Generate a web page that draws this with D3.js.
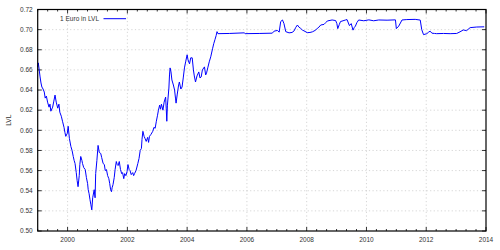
<!DOCTYPE html>
<html>
<head>
<meta charset="utf-8">
<script src="https://cdn.jsdelivr.net/npm/d3@7"></script>
<style>
  html, body { margin: 0; padding: 0; background: #fff; }
  svg { display: block; font-family: "Liberation Sans", Arial, sans-serif; }
</style>
</head>
<body>
<svg id="chart" width="500" height="250"></svg>
<script>
// EUR -> LVL, decimal year vs rate
const years = [
  1999.00, 1999.02, 1999.05, 1999.08, 1999.11, 1999.14, 1999.18, 1999.22, 1999.25, 1999.29,
  1999.33, 1999.38, 1999.41, 1999.44, 1999.50, 1999.54, 1999.58, 1999.62, 1999.67, 1999.71,
  1999.74, 1999.79, 1999.83, 1999.88, 1999.91, 1999.94, 1999.99, 2000.02, 2000.06, 2000.11,
  2000.15, 2000.19, 2000.22, 2000.25, 2000.29, 2000.32, 2000.35, 2000.39, 2000.41, 2000.44,
  2000.48, 2000.50, 2000.54, 2000.59, 2000.63, 2000.67, 2000.69, 2000.72, 2000.75, 2000.78,
  2000.81, 2000.84, 2000.89, 2000.92, 2000.94, 2000.98, 2001.02, 2001.06, 2001.11, 2001.14,
  2001.19, 2001.23, 2001.26, 2001.30, 2001.34, 2001.38, 2001.41, 2001.44, 2001.47, 2001.49,
  2001.52, 2001.56, 2001.59, 2001.63, 2001.66, 2001.69, 2001.73, 2001.77, 2001.81, 2001.84,
  2001.88, 2001.91, 2001.95, 2001.99, 2002.02, 2002.06, 2002.09, 2002.13, 2002.18, 2002.21,
  2002.24, 2002.29, 2002.35, 2002.39, 2002.43, 2002.47, 2002.49, 2002.52, 2002.56, 2002.59,
  2002.63, 2002.68, 2002.71, 2002.74, 2002.79, 2002.85, 2002.89, 2002.93, 2002.97, 2003.01,
  2003.04, 2003.08, 2003.11, 2003.14, 2003.19, 2003.23, 2003.28, 2003.30, 2003.32, 2003.34,
  2003.39, 2003.41, 2003.43, 2003.46, 2003.49, 2003.54, 2003.58, 2003.61, 2003.63, 2003.67,
  2003.71, 2003.74, 2003.79, 2003.83, 2003.87, 2003.91, 2003.95, 2004.00, 2004.03, 2004.08,
  2004.12, 2004.17, 2004.21, 2004.24, 2004.28, 2004.33, 2004.39, 2004.43, 2004.47, 2004.51,
  2004.58, 2004.62, 2004.65, 2004.69, 2004.74, 2004.79, 2004.85, 2004.89, 2004.93, 2004.97,
  2005.00, 2005.03, 2005.41, 2005.91, 2005.94, 2006.41, 2006.85, 2006.91, 2007.02, 2007.08,
  2007.13, 2007.19, 2007.24, 2007.30, 2007.41, 2007.51, 2007.58, 2007.63, 2007.69, 2007.74,
  2007.80, 2007.86, 2007.91, 2008.02, 2008.11, 2008.19, 2008.28, 2008.35, 2008.41, 2008.47,
  2008.58, 2008.64, 2008.69, 2008.85, 2008.97, 2009.01, 2009.04, 2009.09, 2009.13, 2009.30,
  2009.35, 2009.43, 2009.49, 2009.55, 2009.59, 2009.63, 2009.68, 2009.74, 2009.91, 2010.08,
  2010.24, 2010.41, 2010.69, 2010.97, 2011.00, 2011.08, 2011.19, 2011.35, 2011.63, 2011.80,
  2011.85, 2011.91, 2012.02, 2012.08, 2012.13, 2012.19, 2012.28, 2012.35, 2012.58, 2012.80,
  2013.02, 2013.13, 2013.24, 2013.35, 2013.47, 2013.69, 2013.94
];
const rates = [
  0.663, 0.667, 0.660, 0.653, 0.647, 0.643, 0.641, 0.638, 0.632, 0.634,
  0.628, 0.623, 0.626, 0.619, 0.623, 0.629, 0.635, 0.628, 0.622, 0.626,
  0.618, 0.614, 0.609, 0.603, 0.598, 0.594, 0.597, 0.604, 0.592, 0.584,
  0.580, 0.574, 0.570, 0.567, 0.558, 0.550, 0.544, 0.555, 0.566, 0.574,
  0.570, 0.567, 0.563, 0.561, 0.553, 0.547, 0.541, 0.537, 0.531, 0.526,
  0.521, 0.533, 0.541, 0.533, 0.557, 0.570, 0.585, 0.578, 0.577, 0.573,
  0.567, 0.566, 0.560, 0.561, 0.555, 0.552, 0.547, 0.541, 0.539, 0.543,
  0.546, 0.553, 0.561, 0.569, 0.566, 0.565, 0.569, 0.561, 0.557, 0.558,
  0.552, 0.557, 0.555, 0.559, 0.566, 0.561, 0.560, 0.556, 0.558, 0.555,
  0.557, 0.560, 0.567, 0.572, 0.580, 0.582, 0.591, 0.599, 0.594, 0.592,
  0.589, 0.593, 0.588, 0.594, 0.596, 0.599, 0.603, 0.602, 0.609, 0.615,
  0.620, 0.625, 0.621, 0.626, 0.620, 0.628, 0.633, 0.622, 0.609, 0.625,
  0.642, 0.655, 0.662, 0.658, 0.650, 0.645, 0.640, 0.632, 0.627, 0.636,
  0.644, 0.648, 0.641, 0.643, 0.652, 0.662, 0.668, 0.675, 0.670, 0.666,
  0.672, 0.672, 0.660, 0.654, 0.648, 0.654, 0.658, 0.652, 0.653, 0.660,
  0.663, 0.655, 0.657, 0.662, 0.668, 0.673, 0.681, 0.686, 0.690, 0.694,
  0.698, 0.696, 0.6962, 0.6968, 0.6960, 0.6962, 0.6965, 0.6985, 0.6992, 0.6975,
  0.7080, 0.7096, 0.7060, 0.6980, 0.6968, 0.6972, 0.6988, 0.7020, 0.7046, 0.7025,
  0.7012, 0.6995, 0.6988, 0.6970, 0.6972, 0.6978, 0.6992, 0.7010, 0.7025, 0.7046,
  0.7052, 0.7070, 0.7086, 0.7096, 0.7090, 0.7060, 0.7010, 0.7050, 0.7080, 0.7096,
  0.7100, 0.7040, 0.7060, 0.6995, 0.7020, 0.7035, 0.7070, 0.7096, 0.7088, 0.7097,
  0.7088, 0.7096, 0.7094, 0.7097, 0.7010, 0.7035, 0.7096, 0.7100, 0.7102, 0.7095,
  0.7000, 0.6950, 0.6960, 0.6975, 0.6985, 0.6965, 0.6962, 0.6960, 0.6962, 0.6960,
  0.6962, 0.6978, 0.6997, 0.6990, 0.7020, 0.7026, 0.7028
];
const xTicks = [2000, 2002, 2004, 2006, 2008, 2010, 2012, 2014];
const yTicks = [0.50, 0.52, 0.54, 0.56, 0.58, 0.60, 0.62, 0.64, 0.66, 0.68, 0.70, 0.72];
const seriesName = '1 Euro in LVL';
const yLabel = 'LVL';

const W = 500, H = 250;
const margin = { top: 9.5, right: 14, bottom: 19, left: 37.7 };

const svg = d3.select('#chart');

const x = d3.scaleLinear().domain([1999, 2014]).range([margin.left, W - margin.right]);
const y = d3.scaleLinear().domain([0.50, 0.72]).range([H - margin.bottom, margin.top]);

const x0 = x.range()[0], x1 = x.range()[1];
const y0 = y.range()[0], y1 = y.range()[1];

// minor ticks every 4 months
const minorX = d3.range(1999, 2014.001, 1 / 3).filter(v => !xTicks.some(t => Math.abs(t - v) < 1e-6));

// grid
const grid = svg.append('g').attr('stroke', '#bbb').attr('stroke-width', 0.6)
  .attr('stroke-dasharray', '1.2,2.4');
grid.selectAll('line.gx').data(xTicks.filter(t => t < 2014))
  .enter().append('line')
  .attr('x1', d => x(d)).attr('x2', d => x(d))
  .attr('y1', y0).attr('y2', y1);
grid.selectAll('line.gy').data(yTicks.filter(t => t > 0.50 && t < 0.72))
  .enter().append('line')
  .attr('x1', x0).attr('x2', x1)
  .attr('y1', d => y(d)).attr('y2', d => y(d));

// ticks (inward, gnuplot style)
const ticks = svg.append('g').attr('stroke', '#000').attr('stroke-width', 0.8);
xTicks.forEach(t => {
  ticks.append('line').attr('x1', x(t)).attr('x2', x(t)).attr('y1', y0).attr('y2', y0 - 4);
  ticks.append('line').attr('x1', x(t)).attr('x2', x(t)).attr('y1', y1).attr('y2', y1 + 4);
});
minorX.forEach(t => {
  ticks.append('line').attr('x1', x(t)).attr('x2', x(t)).attr('y1', y0).attr('y2', y0 - 2);
  ticks.append('line').attr('x1', x(t)).attr('x2', x(t)).attr('y1', y1).attr('y2', y1 + 2);
});
yTicks.forEach(t => {
  ticks.append('line').attr('x1', x0).attr('x2', x0 + 4).attr('y1', y(t)).attr('y2', y(t));
  ticks.append('line').attr('x1', x1).attr('x2', x1 - 4).attr('y1', y(t)).attr('y2', y(t));
});

// data line
const pts = years.map((yr, i) => [yr, rates[i]]);
const line = d3.line().x(d => x(d[0])).y(d => y(d[1]));
svg.append('path')
  .datum(pts)
  .attr('fill', 'none')
  .attr('stroke', '#0000ff')
  .attr('stroke-width', 1)
  .attr('stroke-linejoin', 'round')
  .attr('d', line);

// frame
svg.append('rect')
  .attr('x', x0).attr('y', y1)
  .attr('width', x1 - x0).attr('height', y0 - y1)
  .attr('fill', 'none').attr('stroke', '#000').attr('stroke-width', 1.2);

// tick labels
const labels = svg.append('g').attr('fill', '#333').attr('font-size', '6.5px');
labels.selectAll('text.yl').data(yTicks).enter().append('text')
  .attr('x', x0 - 5).attr('y', d => y(d)).attr('dy', '0.35em')
  .attr('text-anchor', 'end')
  .text(d => d3.format('.2f')(d));
labels.selectAll('text.xl').data(xTicks).enter().append('text')
  .attr('x', d => x(d)).attr('y', y0 + 11)
  .attr('text-anchor', 'middle')
  .text(d => d);

// axis title
svg.append('text')
  .attr('transform', `translate(9,${(y0 + y1) / 2}) rotate(-90)`)
  .attr('text-anchor', 'middle').attr('dy', '0.35em')
  .attr('font-size', '6.5px').attr('fill', '#333')
  .text(yLabel);

// legend
svg.append('text')
  .attr('x', 99).attr('y', 18.5).attr('dy', '0.35em')
  .attr('text-anchor', 'end').attr('font-size', '6.5px').attr('fill', '#333')
  .text(seriesName);
svg.append('line')
  .attr('x1', 103.5).attr('x2', 126).attr('y1', 18.7).attr('y2', 18.7)
  .attr('stroke', '#0000ff').attr('stroke-width', 1);
</script>
</body>
</html>
